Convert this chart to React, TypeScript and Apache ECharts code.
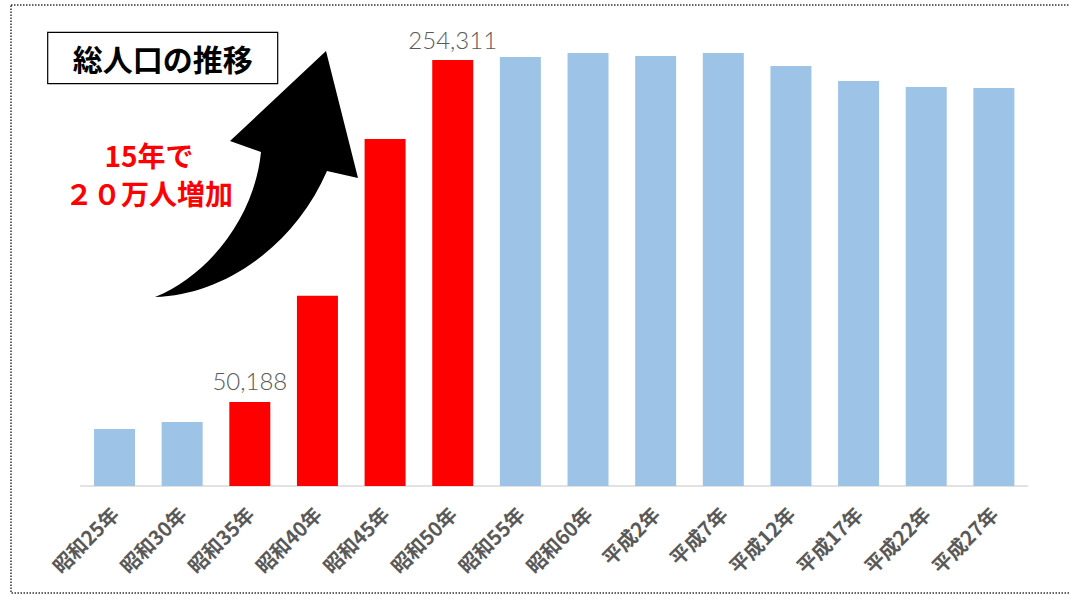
import React, { useEffect, useRef } from "react";
import * as echarts from "echarts";

const categories = [
  "昭和25年", "昭和30年", "昭和35年", "昭和40年", "昭和45年", "昭和50年", "昭和55年",
  "昭和60年", "平成2年", "平成7年", "平成12年", "平成17年", "平成22年", "平成27年",
];
const population = [
  34000, 38200, 50188, 113600, 207200, 254311, 256100,
  258500, 256700, 258500, 250700, 241800, 238200, 237600,
];
// bars of the 15-year surge (昭和35年〜昭和50年)
const surge = [false, false, true, true, true, true, false, false, false, false, false, false, false, false];
// bars that carry a value label
const labelled = [false, false, true, false, false, true, false, false, false, false, false, false, false, false];

const titleText = "総人口の推移";
const noteLines = ["15年で", "２０万人増加"];

const ARROW_D =
  "M155,297 C225,295 295,245 327,171 L358,178 L326,51 L230,141 L261,152 C255,215 210,275 155,297 Z";

let registered = false;
function ensureShape() {
  if (registered) return;
  echarts.graphic.registerShape("upArrow", echarts.graphic.extendPath(ARROW_D, {}));
  registered = true;
}

export default function App() {
  const ref = useRef<HTMLDivElement>(null);
  useEffect(() => {
    ensureShape();
    const chart = echarts.init(ref.current!, null, { renderer: "svg" });
    const data = population.map((v, i) => ({
      value: v,
      itemStyle: { color: surge[i] ? "#FF0000" : "#9DC3E6" },
      label: { show: labelled[i] },
    }));
    chart.setOption({
      animation: false,
      backgroundColor: "#ffffff",
      grid: { left: 80.7, right: 42.3, top: 17, bottom: 110, containLabel: false },
      xAxis: {
        type: "category",
        data: categories,
        axisTick: { show: false },
        axisLine: { lineStyle: { color: "#D9D9D9", width: 1.5 } },
        axisLabel: {
          interval: 0,
          rotate: 45,
          margin: 24,
          color: "#595959",
          fontWeight: "bold",
          fontSize: 20,
          fontFamily: "Noto Sans CJK JP",
        },
      },
      yAxis: {
        type: "value",
        min: 0,
        max: 280000,
        show: false,
        splitLine: { show: false },
      },
      series: [
        {
          type: "bar",
          data,
          barCategoryGap: "39.4%",
          label: {
            position: "top",
            distance: 9,
            color: "#595959",
            fontSize: 24,
            fontWeight: 300,
            fontFamily: "Lato",
            formatter: (p: any) => Number(p.value).toLocaleString("en-US"),
          },
        },
      ],
      graphic: [
        {
          type: "rect",
          silent: true,
          shape: { x: 11, y: 5, width: 1075, height: 588 },
          style: { fill: "none", stroke: "#333333", lineWidth: 1.5, lineDash: [1.5, 1.5] },
        },
        {
          type: "rect",
          shape: { x: 47.7, y: 32.3, width: 230, height: 51.4 },
          style: { fill: "#ffffff", stroke: "#000000", lineWidth: 1.2 },
        },
        {
          type: "text",
          x: 162.7,
          y: 58,
          style: {
            text: titleText,
            fill: "#000000",
            font: 'bold 30px "Noto Sans CJK JP"',
            align: "center",
            verticalAlign: "middle",
          },
        },
        {
          type: "text",
          x: 149,
          y: 155,
          style: {
            text: noteLines[0],
            fill: "#FF0000",
            font: 'bold 28px "Noto Sans CJK JP"',
            align: "center",
            verticalAlign: "middle",
          },
        },
        {
          type: "text",
          x: 149,
          y: 193,
          style: {
            text: noteLines[1],
            fill: "#FF0000",
            font: 'bold 28px "Noto Sans CJK JP"',
            align: "center",
            verticalAlign: "middle",
          },
        },
        {
          type: "upArrow",
          x: 0,
          y: 0,
          scaleX: 1,
          scaleY: 1,
          style: { fill: "#000000", stroke: "none" },
        },
      ],
    });
    return () => chart.dispose();
  }, []);
  return (
    <div
      ref={ref}
      style={{ position: "fixed", left: 0, top: 0, width: 1070, height: 596 }}
    />
  );
}
